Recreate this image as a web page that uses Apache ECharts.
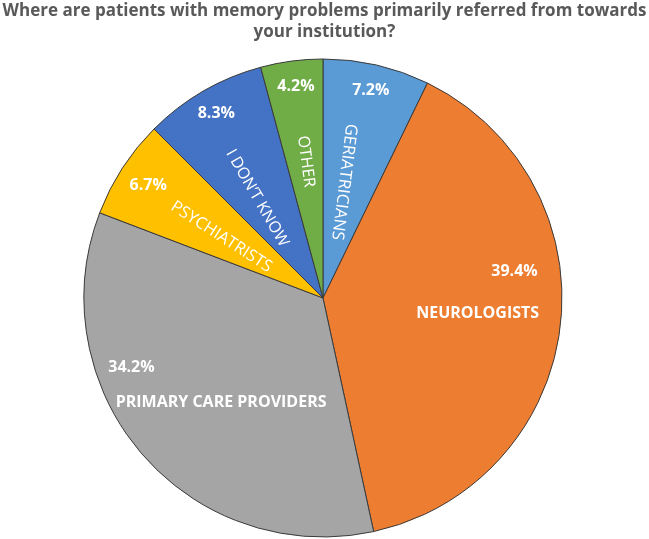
<!DOCTYPE html>
<html><head><meta charset="utf-8">
<script src="https://cdn.jsdelivr.net/npm/echarts@6/dist/echarts.min.js"></script>
<style>html,body{margin:0;padding:0;background:#fff}#c{width:649px;height:539px}</style>
</head><body><div id="c"></div>
<script>
const titleText = 'Where are patients with memory problems primarily referred from towards\nyour institution?';
const categories = ['GERIATRICIANS', 'NEUROLOGISTS', 'PRIMARY CARE PROVIDERS', 'PSYCHIATRISTS', 'I DON\u2019T KNOW', 'OTHER'];
const values = [7.2, 39.4, 34.2, 6.7, 8.3, 4.2];
const colors = ['#5B9BD5', '#ED7D31', '#A5A5A5', '#FFC000', '#4472C4', '#70AD47'];
// label styling helpers (not data)
const nameRotate = [-97, 0, 0, 'radial', 'radial', 'radial'];
const nameWeight = ['normal', 'bold', 'bold', 'normal', 'normal', 'normal'];
const nameSize = [16.5, 16, 16, 16.5, 16, 16];
const nameShift = [[4, 6], [33, 1], [-9, 25], [4, 4], [3, 7], [-15, -1]];
const pctShift = [[0, 0], [-20, -52], [-30, -69], [4, 3], [0, 0], [1, 0]];

const FONT = '"Open Sans", sans-serif';
const CENTER = [323, 298];
const R = 239;

const chart = echarts.init(document.getElementById('c'), null, {renderer: 'canvas'});
chart.setOption({
  animation: false,
  title: {
    text: titleText, left: 'center', top: -4,
    textStyle: {fontFamily: FONT, fontSize: 17, fontWeight: 'bold', color: '#595959', lineHeight: 21}
  },
  series: [
    {
      type: 'pie', center: CENTER, radius: [0, R], startAngle: 90, clockwise: true,
      avoidLabelOverlap: false, silent: true,
      itemStyle: {borderColor: '#3a3a3a', borderWidth: 1},
      labelLine: {show: false},
      label: {show: true, position: 'inside', color: '#fff', fontFamily: FONT, fontSize: 16, formatter: '{b}'},
      labelLayout: function (p) { const s = nameShift[p.dataIndex]; return {dx: s[0], dy: s[1]}; },
      data: categories.map((n, i) => ({
        name: n, value: values[i], itemStyle: {color: colors[i]},
        label: {rotate: nameRotate[i], fontWeight: nameWeight[i], fontSize: nameSize[i]}
      }))
    },
    {
      type: 'pie', center: CENTER, radius: [181, R], startAngle: 90, clockwise: true,
      avoidLabelOverlap: false, silent: true,
      itemStyle: {color: 'rgba(0,0,0,0)', borderWidth: 0},
      labelLine: {show: false},
      label: {show: true, position: 'inside', color: '#fff', fontFamily: FONT, fontSize: 16, fontWeight: 'bold',
        formatter: p => p.value.toFixed(1) + '%'},
      labelLayout: function (p) { const s = pctShift[p.dataIndex]; return {dx: s[0], dy: s[1]}; },
      data: categories.map((n, i) => ({name: n, value: values[i]}))
    }
  ]
});
</script></body></html>
